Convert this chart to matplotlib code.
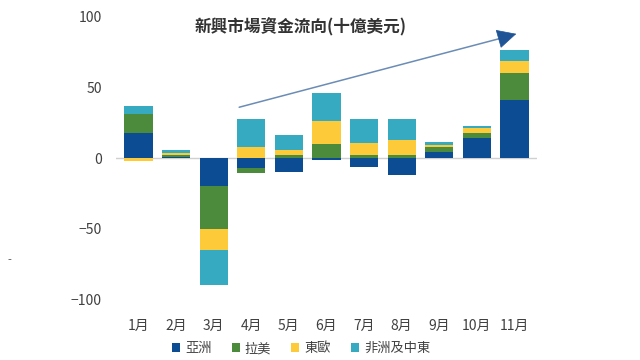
import matplotlib
matplotlib.use("Agg")
import matplotlib.pyplot as plt
import numpy as np

plt.rcParams['font.family'] = ['Noto Sans CJK TC', 'DejaVu Sans']

months = ["1月", "2月", "3月", "4月", "5月", "6月", "7月", "8月", "9月", "10月", "11月"]
series_names = ["亞洲", "拉美", "東歐", "非洲及中東"]
asia = [17.5, 0.5, -20, -7, -10, -1.5, -6, -12, 4, 14, 41]
latam = [14, 1.5, -30, -3.5, 2, 10, 2.5, 2, 3.5, 4, 19.5]
east_eu = [-2, 1.5, -15, 8, 3.5, 16, 8, 11, 2, 3.5, 8]
mideast_africa = [5.5, 2.5, -25, 20, 11, 20, 17.5, 15, 2, 1.5, 8]
colors = ["#0B4C93", "#4C8B3B", "#FDCB3A", "#36AAC0"]

# trend arrow (data coords)
arrow_start = (2.68, 36)
arrow_mid = (9.6, 84.6)
arrow_end = (10.05, 88)

fig = plt.figure(figsize=(6.4, 3.6), dpi=100)
ax = fig.add_axes([0.181, 0.169, 0.658, 0.784])

x = np.arange(len(months))
pos_base = np.zeros(len(months))
neg_base = np.zeros(len(months))
for name, vals, c in zip(series_names, [asia, latam, east_eu, mideast_africa], colors):
    v = np.array(vals, dtype=float)
    bottoms = np.where(v >= 0, pos_base, neg_base)
    ax.bar(x, v, 0.75, bottom=bottoms, color=c, label=name)
    pos_base += np.clip(v, 0, None)
    neg_base += np.clip(v, None, 0)

ax.axhline(0, color="#d0d0d0", lw=1, zorder=0)
# light shaft + dark head
ax.annotate("", xy=arrow_mid, xytext=arrow_start,
            arrowprops=dict(arrowstyle="-", color="#6a8cb5", lw=1.1,
                            shrinkA=0, shrinkB=0))
ax.annotate("", xy=arrow_end, xytext=arrow_mid,
            arrowprops=dict(arrowstyle="-|>,head_length=0.7,head_width=0.35",
                            color="#1f5596", lw=0.5,
                            mutation_scale=18, shrinkA=0, shrinkB=0))

ax.set_xlim(-0.6, 10.6)
ax.set_ylim(-100, 100)
ax.set_yticks([-100, -50, 0, 50, 100])
ax.set_xticks(x)
ax.set_xticklabels(months)
ax.tick_params(axis="both", length=0, labelsize=10, colors="#404040")
ax.tick_params(axis="x", pad=14)
ax.tick_params(axis="y", pad=10)
for s in ax.spines.values():
    s.set_visible(False)

fig.text(0.47, 0.925, "新興市場資金流向(十億美元)", ha="center", va="center",
         fontsize=12, fontweight="bold", color="#333333")
fig.text(0.012, 0.27, "-", fontsize=8, color="#555555")

ax.legend(loc="upper center", bbox_to_anchor=(0.44, -0.11), ncol=4, frameon=False,
          fontsize=9.5, handlelength=0.6, handleheight=0.6, handletextpad=0.4,
          columnspacing=1.5, labelcolor="#404040")

plt.savefig("out.png", dpi=100)
